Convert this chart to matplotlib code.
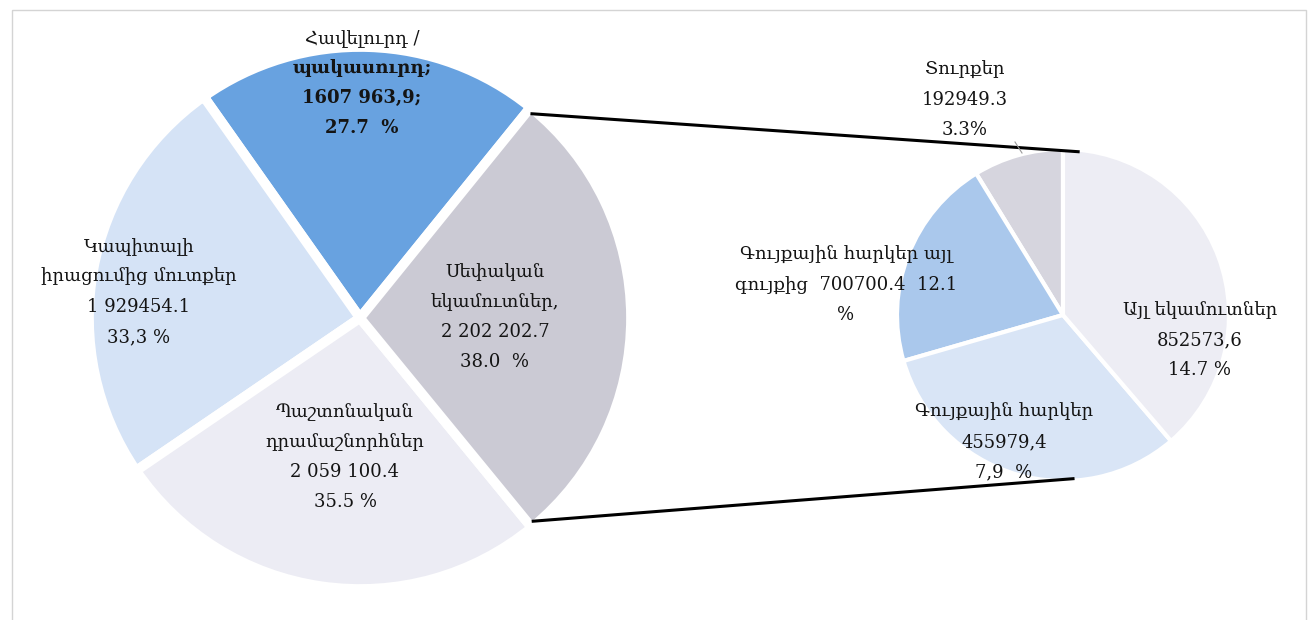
"""Pie-of-pie: budget revenue structure with breakdown of own revenues."""

import matplotlib.pyplot as plt
from matplotlib.patches import Rectangle
import numpy as np

# ================== Data ==================
MAIN_VALUES = [1607963.9, 1929454.1, 2059100.4, 2202202.7]
MAIN_LABELS = [
    "Հավելուրդ /\nպակասուրդ;\n1607 963,9;\n27.7  %",
    "Կապիտալի\nիրացումից մուտքեր\n1 929454.1\n33,3 %",
    "Պաշտոնական\nդրամաշնորհներ\n2 059 100.4\n35.5 %",
    "Սեփական\nեկամուտներ,\n2 202 202.7\n38.0  %",
]
MAIN_COLORS = ["#68a2e0", "#d5e3f6", "#ececf4", "#cbcad4"]

# breakdown of "own revenues", in drawing order
SUB_VALUES = [192949.3, 455979.4, 700700.4, 852573.6]
SUB_LABELS = [
    "Տուրքեր\n192949.3\n3.3%",
    "Գույքային հարկեր այլ\nգույքից  700700.4  12.1\n%",
    "Գույքային հարկեր\n455979,4\n7,9  %",
    "Այլ եկամուտներ\n852573,6\n14.7 %",
]
SUB_COLORS = ["#d6d5de", "#aac8ec", "#d9e5f6", "#ededf4"]

# ================== Layout ==================
W, H = 1314, 620
MAIN_CENTER, MAIN_R = (360, 318), 271
SUB_CENTER, SUB_R = (1063, 315), 166
MAIN_LABEL_POS = [(362, 83), (139, 292), (345, 457), (495, 317)]
SUB_LABEL_POS = [(965, 100), (846, 285), (1004, 442), (1200, 340)]
FONT = ["DejaVu Serif"]
FS = 13
LS = 1.85
TXT = "#141414"

fig = plt.figure(figsize=(W / 100, H / 100), dpi=100)
ax = fig.add_axes([0, 0, 1, 1])

# image y axis points down, so screen-ccw means counterclock=False here
main_wedges, _ = ax.pie(
    MAIN_VALUES, colors=MAIN_COLORS, center=MAIN_CENTER, radius=MAIN_R,
    startangle=-51, counterclock=False,
    wedgeprops=dict(edgecolor="white", linewidth=7),
    frame=True,
)
ax.pie(
    SUB_VALUES, colors=SUB_COLORS, center=SUB_CENTER, radius=SUB_R,
    startangle=-90, counterclock=False,
    wedgeprops=dict(edgecolor="white", linewidth=3),
    frame=True,
)
ax.set_xlim(0, W)
ax.set_ylim(H, 0)
ax.set_aspect("equal")
ax.axis("off")

# connector lines from the broken-down slice to the secondary pie
own = main_wedges[3]
r_vis = MAIN_R - 4
a_top = np.deg2rad(own.theta1 + 1.1)
a_bot = np.deg2rad(own.theta2 - 1.1)
for a_main, a_sub in [(a_top, np.deg2rad(-84.7)), (a_bot, np.deg2rad(86.5))]:
    x0 = MAIN_CENTER[0] + r_vis * np.cos(a_main)
    y0 = MAIN_CENTER[1] + r_vis * np.sin(a_main)
    x1 = SUB_CENTER[0] + (SUB_R - 2) * np.cos(a_sub)
    y1 = SUB_CENTER[1] + (SUB_R - 2) * np.sin(a_sub)
    ax.plot([x0, x1], [y0, y1], color="black", linewidth=2.2, zorder=5)

# small leader for the 3.3% label
ax.plot([1015, 1022], [142, 153], color="#9a9a9a", linewidth=0.8, zorder=5)

# labels
for i, ((x, y), txt) in enumerate(zip(MAIN_LABEL_POS, MAIN_LABELS)):
    if i == 0:
        first, rest = txt.split("\n", 1)
        ax.text(x, 38, first, ha="center", va="center", fontsize=FS,
                family=FONT, color=TXT, zorder=6)
        ax.text(x, 98, rest, ha="center", va="center", fontsize=FS,
                family=FONT, color=TXT, fontweight="bold", linespacing=LS,
                zorder=6)
    else:
        ax.text(x, y, txt, ha="center", va="center", fontsize=FS,
                family=FONT, color=TXT, linespacing=LS, zorder=6)

for (x, y), txt in zip(SUB_LABEL_POS, SUB_LABELS):
    ax.text(x, y, txt, ha="center", va="center", fontsize=FS,
            family=FONT, color=TXT, linespacing=LS, zorder=6)

# light chart-area frame
ax.add_patch(Rectangle((12, 10), 1294, 640, fill=False,
                       edgecolor="#d4d4d4", linewidth=1, zorder=0))

fig.savefig("out.png", dpi=100)
